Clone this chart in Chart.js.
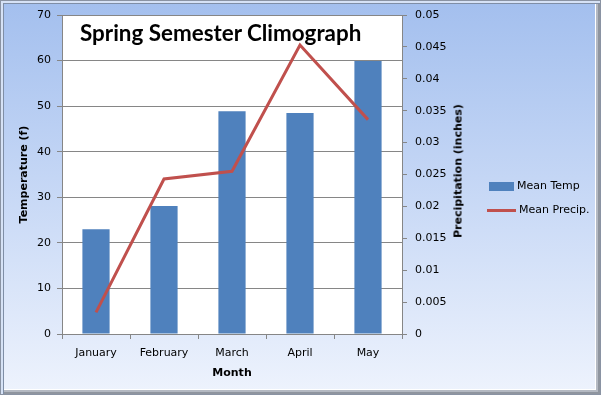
<!DOCTYPE html>
<html>
<head>
<meta charset="utf-8">
<script src="https://cdn.jsdelivr.net/npm/chart.js@4/dist/chart.umd.min.js"></script>
<style>
  html, body { margin: 0; padding: 0; }
  #wrap {
    position: relative; width: 601px; height: 395px; overflow: hidden;
    background: linear-gradient(to bottom, #a3bfee 0%, #c4d6f5 45%, #eef3fd 100%);
    font-family: "DejaVu Sans", sans-serif;
  }
  #frame {
    position: absolute; left: 0; top: 0; width: 601px; height: 395px; box-sizing: border-box;
    border: 1px solid #8a93a3;
    box-shadow: inset 2px 2px 0 #d6e2f6, inset 3px 3px 0 #7f8ea6,
                inset -2px -2px 0 #8f959f, inset -4px -4px 0 #b4b9c2, inset -5px -5px 0 #ffffff;
    pointer-events: none;
  }
  canvas { position: absolute; left: 0; top: 0; }
  #title {
    position: absolute; left: 80px; top: 19px; font: bold 22.4px Lato, sans-serif; color: #000;
    white-space: nowrap;
  }
  #rtitle {
    position: absolute; left: 458px; top: 171px; font: bold 11px "DejaVu Sans", sans-serif;
    white-space: nowrap; transform: translate(-50%, -50%) rotate(-90deg);
  }
  .leg { position: absolute; left: 487px; font-size: 11px; color: #000; white-space: nowrap; }
  .leg span { display: inline-block; vertical-align: middle; margin-right: 3px; }
</style>
</head>
<body>
<div id="wrap">
  <canvas id="chart" width="601" height="395"></canvas>
  <div id="title">Spring Semester Climograph</div>
  <div id="rtitle">Precipitation (inches)</div>
  <div class="leg" style="top:179px;"><span style="width:25px;height:9px;background:#4f81bd;margin-left:2px"></span>Mean Temp</div>
  <div class="leg" style="top:203px;"><span style="width:29px;height:3px;background:#c0504d;"></span>Mean Precip.</div>
  <div id="frame"></div>
</div>
<script>
const months = ['January', 'February', 'March', 'April', 'May'];
const meanTemp = [23, 28.1, 48.9, 48.5, 59.9];
const meanPrecip = [0.0034, 0.0243, 0.0255, 0.0453, 0.0336];

const gridColor = '#868686';
const tickFont = { family: 'DejaVu Sans', size: 11 };
const titleFont = { family: 'DejaVu Sans', size: 11, weight: 'bold' };

const whitePlot = {
  id: 'whitePlot',
  beforeDraw(chart) {
    const a = chart.chartArea, c = chart.ctx;
    c.save();
    c.fillStyle = '#ffffff';
    c.fillRect(a.left, a.top, a.right - a.left, a.bottom - a.top);
    c.restore();
  }
};

new Chart(document.getElementById('chart'), {
  type: 'bar',
  data: {
    labels: months,
    datasets: [
      {
        type: 'line', label: 'Mean Precip.', data: meanPrecip, yAxisID: 'y2',
        borderColor: '#c0504d', borderWidth: 3, pointRadius: 0, tension: 0, order: 0
      },
      {
        label: 'Mean Temp', data: meanTemp, yAxisID: 'y',
        backgroundColor: '#4f81bd', categoryPercentage: 1, barPercentage: 0.4, order: 1
      }
    ]
  },
  options: {
    responsive: false,
    animation: false,
    layout: { padding: { top: 15, right: 136, bottom: 14, left: 0 } },
    plugins: { legend: { display: false }, tooltip: { enabled: false } },
    scales: {
      x: {
        grid: { drawOnChartArea: false, color: gridColor, tickLength: 5, offset: true },
        border: { color: gridColor },
        ticks: { font: tickFont, color: '#000', padding: 8, maxRotation: 0 },
        title: { display: true, text: 'Month', font: titleFont, color: '#000', padding: { top: 0, bottom: 1 } },
        afterFit(s) { s.height = 47; }
      },
      y: {
        position: 'left', min: 0, max: 70,
        grid: { color: gridColor, tickLength: 5 },
        border: { color: gridColor },
        ticks: { stepSize: 10, font: tickFont, color: '#000', padding: 6 },
        title: { display: true, text: 'Temperature (f)', font: titleFont, color: '#000', padding: { top: 18, bottom: 0 } },
        afterFit(s) { s.width = 62; }
      },
      y2: {
        position: 'right', min: 0, max: 0.05,
        grid: { drawOnChartArea: false, color: gridColor, tickLength: 5 },
        border: { color: gridColor },
        ticks: { stepSize: 0.005, font: tickFont, color: '#000', padding: 8,
                 callback: v => +v.toFixed(3) + '' },
        afterFit(s) { s.width = 63; }
      }
    }
  },
  plugins: [whitePlot]
});
</script>
</body>
</html>
